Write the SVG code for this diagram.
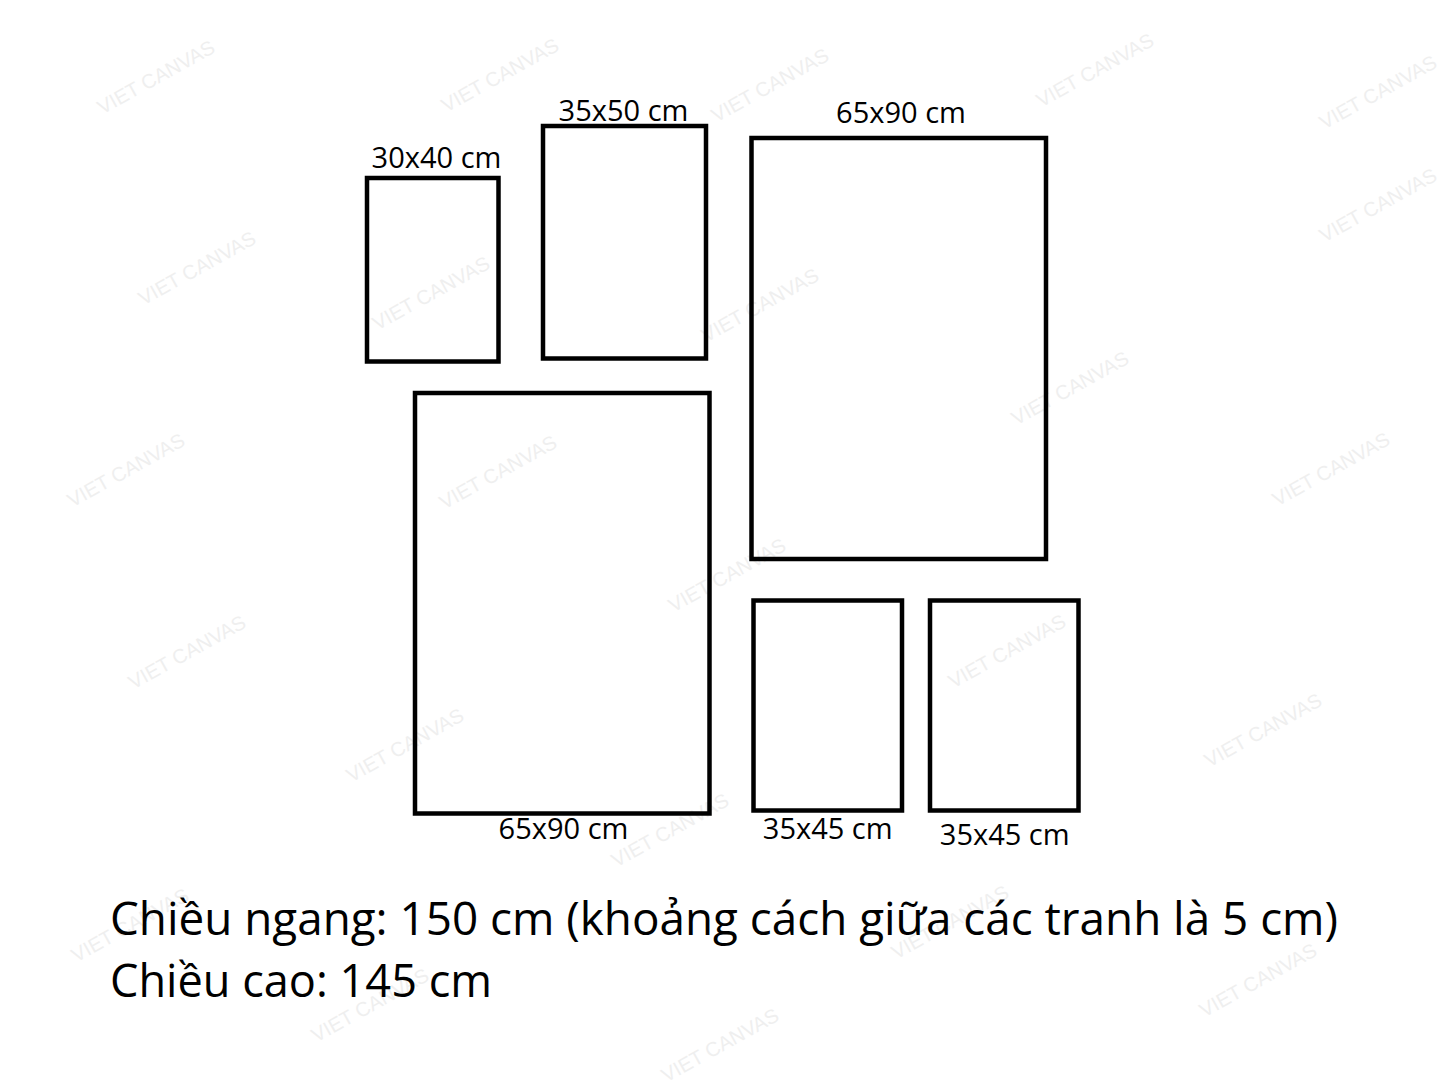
<svg xmlns="http://www.w3.org/2000/svg" width="1445" height="1084" viewBox="0 0 1445 1084">
  <style>
    .frame { fill: none; stroke: #000000; stroke-width: 4.5; }
    .lbl { font-family: "Open Sans", "Noto Sans", sans-serif; font-size: 29px; fill: #000000; text-anchor: middle; }
    .info { font-family: "Open Sans", "Noto Sans", sans-serif; font-size: 46px; fill: #000000; }
    .wm { font-family: "Liberation Sans", Arial, sans-serif; font-size: 20px; fill: #efefef; text-anchor: middle; }
  </style>
  <rect x="0" y="0" width="1445" height="1084" fill="#ffffff"/>

  <g id="watermarks">
    <text class="wm" transform="rotate(-29 156 77)" x="156" y="84">VIET CANVAS</text>
    <text class="wm" transform="rotate(-29 500 75)" x="500" y="82">VIET CANVAS</text>
    <text class="wm" transform="rotate(-29 770 85)" x="770" y="92">VIET CANVAS</text>
    <text class="wm" transform="rotate(-29 1095 70)" x="1095" y="77">VIET CANVAS</text>
    <text class="wm" transform="rotate(-29 1378 92)" x="1378" y="99">VIET CANVAS</text>
    <text class="wm" transform="rotate(-29 1378 205)" x="1378" y="212">VIET CANVAS</text>
    <text class="wm" transform="rotate(-29 197 268)" x="197" y="275">VIET CANVAS</text>
    <text class="wm" transform="rotate(-29 431 293)" x="431" y="300">VIET CANVAS</text>
    <text class="wm" transform="rotate(-29 760 305)" x="760" y="312">VIET CANVAS</text>
    <text class="wm" transform="rotate(-29 1070 388)" x="1070" y="395">VIET CANVAS</text>
    <text class="wm" transform="rotate(-29 126 470)" x="126" y="477">VIET CANVAS</text>
    <text class="wm" transform="rotate(-29 498 472)" x="498" y="479">VIET CANVAS</text>
    <text class="wm" transform="rotate(-29 1331 469)" x="1331" y="476">VIET CANVAS</text>
    <text class="wm" transform="rotate(-29 727 575)" x="727" y="582">VIET CANVAS</text>
    <text class="wm" transform="rotate(-29 187 652)" x="187" y="659">VIET CANVAS</text>
    <text class="wm" transform="rotate(-29 1007 651)" x="1007" y="658">VIET CANVAS</text>
    <text class="wm" transform="rotate(-29 405 745)" x="405" y="752">VIET CANVAS</text>
    <text class="wm" transform="rotate(-29 1263 730)" x="1263" y="737">VIET CANVAS</text>
    <text class="wm" transform="rotate(-29 670 830)" x="670" y="837">VIET CANVAS</text>
    <text class="wm" transform="rotate(-29 130 925)" x="130" y="932">VIET CANVAS</text>
    <text class="wm" transform="rotate(-29 370 1005)" x="370" y="1012">VIET CANVAS</text>
    <text class="wm" transform="rotate(-29 950 922)" x="950" y="929">VIET CANVAS</text>
    <text class="wm" transform="rotate(-29 1258 980)" x="1258" y="987">VIET CANVAS</text>
    <text class="wm" transform="rotate(-29 720 1045)" x="720" y="1052">VIET CANVAS</text>
  </g>

  <g id="frame-30x40">
    <rect class="frame" x="367" y="178" width="131.5" height="183.5"/>
    <text class="lbl" x="436.5" y="168">30x40 cm</text>
  </g>
  <g id="frame-35x50">
    <rect class="frame" x="543" y="126" width="163" height="232.5"/>
    <text class="lbl" x="623.5" y="121">35x50 cm</text>
  </g>
  <g id="frame-65x90-top">
    <rect class="frame" x="751.5" y="138" width="294.5" height="421"/>
    <text class="lbl" x="901" y="123">65x90 cm</text>
  </g>
  <g id="frame-65x90-bottom">
    <rect class="frame" x="415" y="393" width="294.5" height="420.5"/>
    <text class="lbl" x="563.5" y="839">65x90 cm</text>
  </g>
  <g id="frame-35x45-left">
    <rect class="frame" x="753.5" y="600.5" width="148.5" height="210"/>
    <text class="lbl" x="827.7" y="839">35x45 cm</text>
  </g>
  <g id="frame-35x45-right">
    <rect class="frame" x="930" y="600.5" width="148.5" height="210"/>
    <text class="lbl" x="1004.7" y="845">35x45 cm</text>
  </g>

  <g id="connectors"></g>

  <g id="info">
    <text class="info" x="110" y="935" textLength="1228" lengthAdjust="spacingAndGlyphs">Chiều ngang: 150 cm (khoảng cách giữa các tranh là 5 cm)</text>
    <text class="info" x="110" y="996.5" textLength="382" lengthAdjust="spacingAndGlyphs">Chiều cao: 145 cm</text>
  </g>
</svg>
